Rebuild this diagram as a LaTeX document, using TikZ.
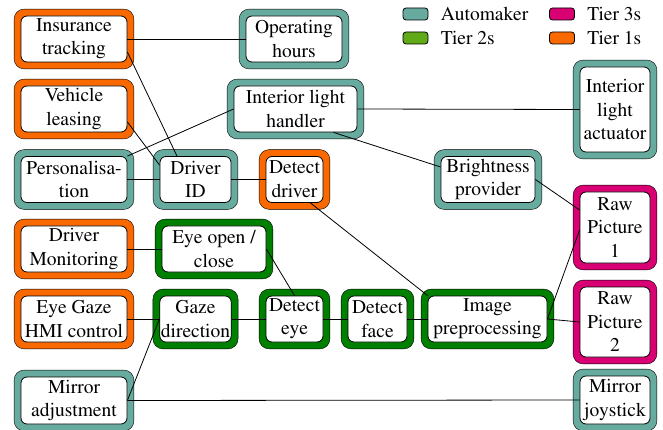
\documentclass[tikz,border=0pt]{standalone}
\usepackage[T1]{fontenc}
\usepackage{mathptmx}
\usetikzlibrary{backgrounds}
\usetikzlibrary{fit}
\usetikzlibrary{positioning}
\definecolor{automaker}{HTML}{67AB9F}
\definecolor{tiertwo}{HTML}{008000}
\definecolor{tiertwolg}{HTML}{60A917}
\definecolor{tierthree}{HTML}{D80073}
\definecolor{tierone}{HTML}{FA6800}

\begin{document}
\begin{tikzpicture}[x=1pt,y=-1pt,line width=0.8pt,
  font=\fontsize{19.5}{23.5}\selectfont,
  inbox/.style={draw,fill=white,rounded corners=6pt,align=center,inner sep=1pt},
  tierbox/.style={draw,rounded corners=10pt,inner sep=6.5pt},
  swatch/.style={draw,rounded corners=3pt,minimum width=25pt,minimum height=12pt,inner sep=0pt},
  lgtext/.style={inner sep=0pt}]
\useasboundingbox (0,0) rectangle (663,430);

\node[swatch,fill=automaker] (lgauto) at (415.5,14) {};
\node[lgtext,right=12pt of lgauto] (lgautot) {Automaker};
\node[swatch,fill=tiertwolg] (lgtwo) at (415.5,38) {};
\node[lgtext,right=12pt of lgtwo] (lgtwot) {Tier 2s};
\node[swatch,fill=tierthree] (lgthree) at (562,14) {};
\node[lgtext,right=12pt of lgthree] (lgthreet) {Tier 3s};
\node[swatch,fill=tierone] (lgone) at (562,38) {};
\node[lgtext,right=12pt of lgone] (lgonet) {Tier 1s};

\node[inbox,minimum width=106pt,minimum height=46pt] (ins) at (74,39) {Insurance\\tracking};
\node[inbox,minimum width=106pt,minimum height=46pt] (lease) at (74,109) {Vehicle\\leasing};
\node[inbox,minimum width=106pt,minimum height=46pt] (pers) at (74,179.5) {Personalisa-\\tion};
\node[inbox,minimum width=106pt,minimum height=46pt] (drvmon) at (74,249) {Driver\\Monitoring};
\node[inbox,minimum width=106pt,minimum height=46pt] (hmi) at (74,319) {Eye Gaze\\HMI control};
\node[inbox,minimum width=106pt,minimum height=47pt] (mirradj) at (74,400.5) {Mirror\\adjustment};
\node[inbox,minimum width=71pt,minimum height=46pt] (drvid) at (195.5,179.5) {Driver\\ID};
\node[inbox,minimum width=104pt,minimum height=46pt] (eyeoc) at (214,249) {Eye open /\\close};
\node[inbox,minimum width=71pt,minimum height=46pt] (gaze) at (195.5,319) {Gaze\\direction};
\node[inbox,minimum width=96pt,minimum height=46pt] (ophrs) at (294,39) {Operating\\hours};
\node[inbox,minimum width=123pt,minimum height=46pt] (ilh) at (295.5,109) {Interior light\\handler};
\node[inbox,minimum width=57pt,minimum height=46pt] (detdrv) at (294.5,179.5) {Detect\\driver};
\node[inbox,minimum width=57pt,minimum height=46pt] (deteye) at (294.5,319) {Detect\\eye};
\node[inbox,minimum width=59pt,minimum height=46pt] (detface) at (377.5,319) {Detect\\face};
\node[inbox,minimum width=119pt,minimum height=46pt] (imgpre) at (487.5,319) {Image\\preprocessing};
\node[inbox,minimum width=94pt,minimum height=46pt] (bright) at (488,179.5) {Brightness\\provider};
\node[inbox,minimum width=70pt,minimum height=85pt] (ila) at (615,109.5) {Interior\\light\\actuator};
\node[inbox,minimum width=70pt,minimum height=71pt] (raw1) at (615,227.5) {Raw\\Picture\\1};
\node[inbox,minimum width=70pt,minimum height=70pt] (raw2) at (615,322) {Raw\\Picture\\2};
\node[inbox,minimum width=70pt,minimum height=48pt] (mirjoy) at (615,400) {Mirror\\joystick};

\begin{scope}[on background layer]
\foreach \n/\c in {ins/tierone,lease/tierone,pers/automaker,drvmon/tierone,hmi/tierone,
  mirradj/automaker,drvid/automaker,eyeoc/tiertwo,gaze/tiertwo,ophrs/automaker,ilh/automaker,
  detdrv/tierone,deteye/tiertwo,detface/tiertwo,imgpre/tiertwo,bright/automaker,ila/automaker,
  raw1/tierthree,raw2/tierthree,mirjoy/automaker}
  \node[tierbox,fill=\c,fit=(\n)] (\n-t) {};
\end{scope}

\draw (ins.east) -- (ophrs.west);
\draw ([yshift=-13pt]ins.east) -- ([xshift=-18.5pt]drvid.north);
\draw ([yshift=-13pt]lease.east) -- ([yshift=-9pt]drvid.north west);
\draw (pers.north east) -- (ilh.west);
\draw (pers.east) -- (drvid.west);
\draw (drvid.east) -- (detdrv.west);
\draw (ilh.east) -- (ila.west);
\draw ([xshift=-24pt]ilh.south east) -- ([yshift=12.5pt]bright.west);
\draw (bright.east) -- ([yshift=17.5pt]raw1.west);
\draw ([xshift=-13pt]detdrv.south east) -- (imgpre.north west);
\draw (drvmon.east) -- (eyeoc.west);
\draw (eyeoc.east) -- (deteye.north);
\draw (hmi.east) -- (gaze.west);
\draw (gaze.east) -- (deteye.west);
\draw (deteye.east) -- (detface.west);
\draw (detface.east) -- (imgpre.west);
\draw (imgpre.east) -- ([yshift=-2.5pt]raw1.west);
\draw (imgpre.east) -- (raw2.west);
\draw (mirradj.east) -- (gaze.west);
\draw (mirradj.east) -- (mirjoy.west);
\end{tikzpicture}
\end{document}
